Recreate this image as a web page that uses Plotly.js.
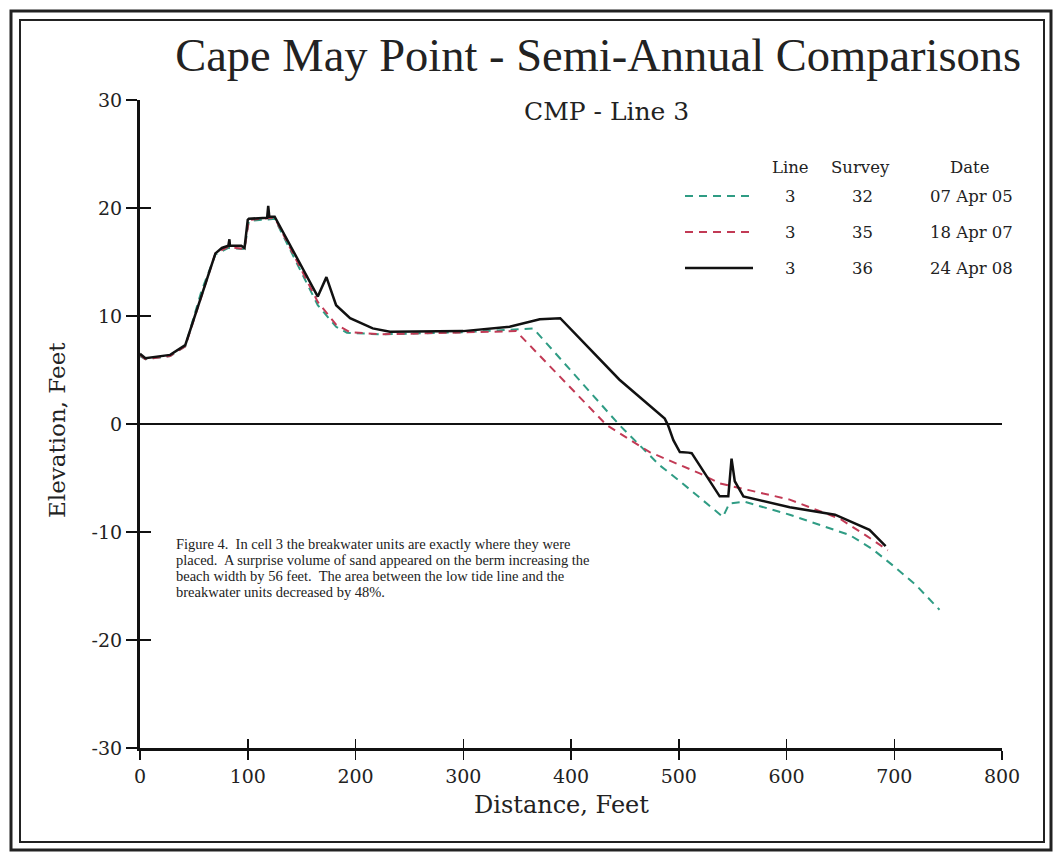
<!DOCTYPE html>
<html>
<head>
<meta charset="utf-8">
<script src="https://cdn.plot.ly/plotly-3.0.1.min.js"></script>
<style>html,body{margin:0;padding:0;background:#fff;}#chart{width:1055px;height:853px;}</style>
</head>
<body>
<div id="chart"></div>
<script>
// Survey 32 (07 Apr 05)
const dist32 = [0, 5, 28, 42, 57, 70, 82, 97, 101, 125, 165, 182, 192, 223, 300, 350, 365, 445, 482, 501, 541, 547, 561, 603, 659, 680, 700, 720, 742];
const elev32 = [6.3, 6.0, 6.3, 7.2, 12.3, 15.7, 16.3, 16.2, 18.8, 19.0, 11.0, 9.0, 8.45, 8.3, 8.5, 8.8, 8.85, -0.1, -3.8, -5.3, -8.6, -7.35, -7.2, -8.4, -10.3, -11.6, -13.2, -14.9, -17.2];
// Survey 35 (18 Apr 07)
const dist35 = [0, 5, 28, 42, 70, 82, 97, 101, 125, 165, 182, 195, 223, 300, 349, 433, 473, 520, 538, 564, 603, 650, 675, 694];
const elev35 = [6.4, 6.0, 6.3, 7.2, 15.8, 16.4, 16.2, 18.9, 19.1, 11.3, 9.2, 8.5, 8.3, 8.5, 8.6, -0.1, -2.6, -4.6, -5.5, -6.1, -7.0, -8.8, -10.4, -11.7];
// Survey 36 (24 Apr 08)
const dist36 = [0, 5, 28, 42, 70, 76, 82, 83, 83.5, 94, 97, 100, 101, 118, 119, 120, 125, 165, 173, 182, 195, 216, 232, 300, 343, 371, 390, 445, 487, 490, 495, 501, 509, 512, 538, 546, 549, 552, 560, 603, 645, 657, 677, 692];
const elev36 = [6.5, 6.1, 6.4, 7.3, 15.8, 16.3, 16.5, 17.1, 16.5, 16.5, 16.3, 18.9, 19.0, 19.1, 20.2, 19.2, 19.2, 11.8, 13.6, 11.0, 9.8, 8.85, 8.55, 8.6, 9.0, 9.7, 9.8, 4.1, 0.5, -0.1, -1.5, -2.6, -2.65, -2.7, -6.7, -6.7, -3.2, -5.3, -6.7, -7.7, -8.4, -8.9, -9.8, -11.3];

const xTicks = [0, 100, 200, 300, 400, 500, 600, 700, 800];
const yTicks = [-30, -20, -10, 0, 10, 20, 30];

const legendRows = [
  {line: "3", survey: "32", date: "07 Apr 05", color: "#2f9c84", dash: "8px,6px", width: 2},
  {line: "3", survey: "35", date: "18 Apr 07", color: "#c23a55", dash: "8px,6px", width: 2},
  {line: "3", survey: "36", date: "24 Apr 08", color: "#111111", dash: "solid", width: 2.5}
];

const noteLines = [
  "Figure 4.  In cell 3 the breakwater units are exactly where they were",
  "placed.  A surprise volume of sand appeared on the berm increasing the",
  "beach width by 56 feet.  The area between the low tide line and the",
  "breakwater units decreased by 48%."
];

const serif = "DejaVu Serif, serif";
const traces = [
  {x: dist32, y: elev32, type: "scatter", mode: "lines", line: {color: legendRows[0].color, dash: legendRows[0].dash, width: 2}, showlegend: false},
  {x: dist35, y: elev35, type: "scatter", mode: "lines", line: {color: legendRows[1].color, dash: legendRows[1].dash, width: 2}, showlegend: false},
  {x: dist36, y: elev36, type: "scatter", mode: "lines", line: {color: legendRows[2].color, width: 2.5}, showlegend: false},
  {x: [], y: [], xaxis: "x2", yaxis: "y2", type: "scatter", showlegend: false, hoverinfo: "skip"}
];

const px2x = p => (p - 140) / 862;
const px2y = p => (748 - p) / 648;

const shapes = [
  {type: "rect", xref: "paper", yref: "paper", x0: px2x(11), x1: px2x(1051), y0: px2y(850), y1: px2y(11), line: {color: "#222", width: 3}},
  {type: "rect", xref: "paper", yref: "paper", x0: px2x(20), x1: px2x(1044), y0: px2y(842), y1: px2y(20), line: {color: "#222", width: 2}}
];
const annotations = [
  {text: "CMP - Line 3", xref: "paper", yref: "paper", x: px2x(606), y: px2y(112), xanchor: "center", yanchor: "middle", showarrow: false, font: {family: serif, size: 25, color: "#222"}},
  {text: "Distance, Feet", xref: "paper", yref: "paper", x: px2x(561), y: px2y(805), xanchor: "center", yanchor: "middle", showarrow: false, font: {family: serif, size: 24, color: "#222"}},
  {text: "Elevation, Feet", xref: "paper", yref: "paper", x: px2x(57), y: px2y(430), xanchor: "center", yanchor: "middle", textangle: -90, showarrow: false, font: {family: serif, size: 23, color: "#222"}},
  {text: "Line", xref: "paper", yref: "paper", x: px2x(790), y: px2y(167), xanchor: "center", yanchor: "middle", showarrow: false, font: {family: serif, size: 16.5, color: "#222"}},
  {text: "Survey", xref: "paper", yref: "paper", x: px2x(860), y: px2y(167), xanchor: "center", yanchor: "middle", showarrow: false, font: {family: serif, size: 16.5, color: "#222"}},
  {text: "Date", xref: "paper", yref: "paper", x: px2x(969), y: px2y(167), xanchor: "center", yanchor: "middle", showarrow: false, font: {family: serif, size: 16.5, color: "#222"}}
];
noteLines.forEach((t, i) => {
  annotations.push({text: t, xref: "paper", yref: "paper", x: px2x(174), y: px2y(544 + 16 * i), xanchor: "left", yanchor: "middle", align: "left", showarrow: false,
    font: {family: "Liberation Serif, serif", size: 14.5, color: "#222"}});
});
const rowY = [196, 232, 268];
legendRows.forEach((r, i) => {
  shapes.push({type: "line", xref: "paper", yref: "paper", x0: px2x(685), x1: px2x(753), y0: px2y(rowY[i]), y1: px2y(rowY[i]), line: {color: r.color, width: r.width, dash: r.dash}});
  [[r.line, 790], [r.survey, 862], [r.date, 971]].forEach(([t, xp]) => {
    annotations.push({text: t, xref: "paper", yref: "paper", x: px2x(xp), y: px2y(rowY[i]), xanchor: "center", yanchor: "middle", showarrow: false, font: {family: serif, size: 16.5, color: "#222"}});
  });
});

const layout = {
  width: 1055, height: 853,
  margin: {l: 140, r: 53, t: 100, b: 105},
  paper_bgcolor: "#ffffff", plot_bgcolor: "#ffffff",
  showlegend: false,
  title: {text: "Cape May Point - Semi-Annual Comparisons", x: 0.567, xanchor: "center", y: 1 - 55 / 853, yanchor: "middle", font: {family: "Liberation Serif, serif", size: 46.5, color: "#222"}},
  xaxis: {range: [0, 800], tickvals: xTicks, ticktext: xTicks.map(String), ticks: "outside", ticklen: 9, tickwidth: 1.5, tickcolor: "#111",
    showline: true, linewidth: 3, linecolor: "#111", showgrid: false, zeroline: false,
    tickfont: {family: serif, size: 19, color: "#222"}},
  yaxis: {range: [-30, 30], tickvals: yTicks, ticktext: yTicks.map(String), ticks: "outside", ticklen: 11, tickwidth: 1.5, tickcolor: "#111",
    showline: true, linewidth: 3, linecolor: "#111", showgrid: false, zeroline: true, zerolinewidth: 1.5, zerolinecolor: "#111",
    tickfont: {family: serif, size: 19, color: "#222"}},
  xaxis2: {overlaying: "x", anchor: "y", side: "bottom", range: [0, 800], tickvals: xTicks, ticks: "inside", ticklen: 9, tickwidth: 1.5, tickcolor: "#111", showticklabels: false, showgrid: false, zeroline: false, showline: false},
  yaxis2: {overlaying: "y", anchor: "x", side: "left", range: [-30, 30], tickvals: yTicks, ticks: "inside", ticklen: 11, tickwidth: 1.5, tickcolor: "#111", showticklabels: false, showgrid: false, zeroline: false, showline: false},
  shapes: shapes,
  annotations: annotations
};

Plotly.newPlot("chart", traces, layout, {displayModeBar: false, staticPlot: true});
</script>
</body>
</html>
